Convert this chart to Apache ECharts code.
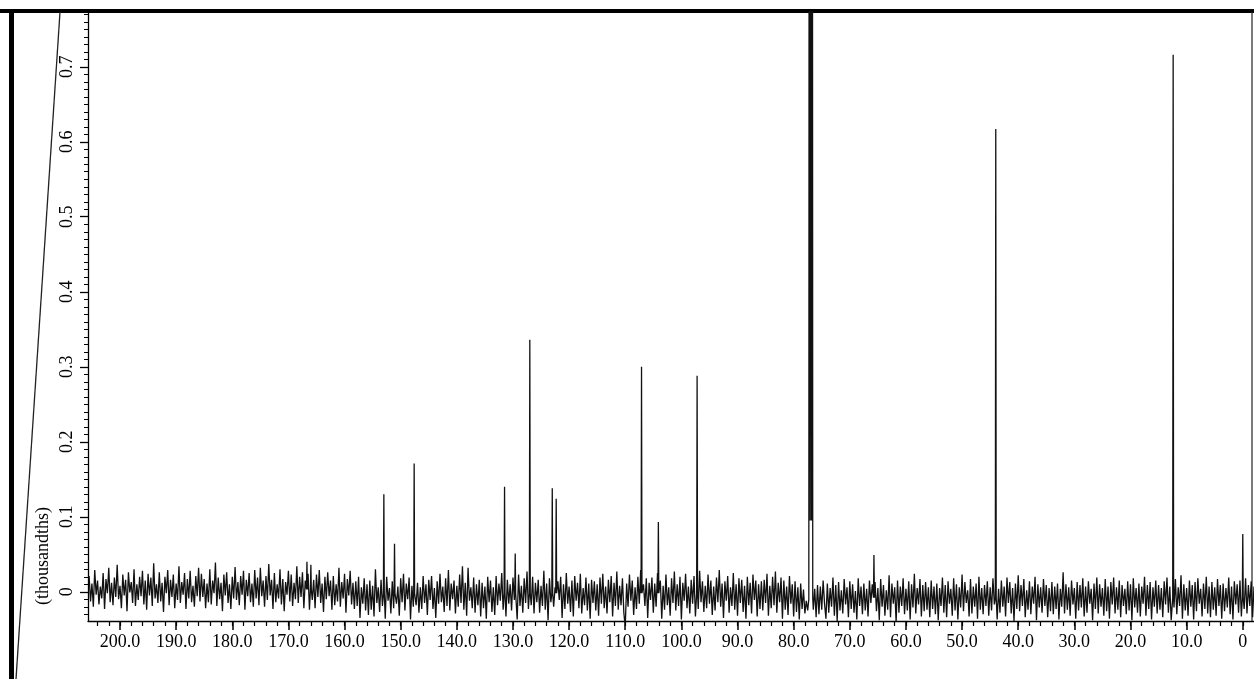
<!DOCTYPE html>
<html>
<head>
<meta charset="utf-8">
<title>13C NMR spectrum</title>
<script src="https://cdn.jsdelivr.net/npm/echarts@6/dist/echarts.min.js"></script>
<style>
  html, body { margin: 0; padding: 0; background: #fff; }
  #chart { width: 1254px; height: 679px; }
</style>
</head>
<body>
<div id="chart"></div>
<script>
// axis ticks (ppm and thousandths)
const xMajorTicks = [200, 190, 180, 170, 160, 150, 140, 130, 120, 110, 100, 90, 80, 70, 60, 50, 40, 30, 20, 10, 0];
const yMajorTicks = [0, 0.1, 0.2, 0.3, 0.4, 0.5, 0.6, 0.7];

// resolved signals: shift (ppm) and height (thousandths)
const peakPpm    = [166.7, 166.0, 153.0, 151.1, 147.6, 131.5, 129.6, 127.0, 123.0, 122.3, 107.1, 104.1, 97.2, 65.7, 44.0, 12.4, 0.0];
const peakHeight = [0.040, 0.036, 0.130, 0.064, 0.171, 0.140, 0.051, 0.336, 0.138, 0.124, 0.300, 0.093, 0.288, 0.049, 0.617, 0.716, 0.077];

// CDCl3 triplet, goes off the top of the plot
const solventPpm = [77.3, 77.2, 77.05, 76.95, 76.8, 76.7, 76.6];
const solventVal = [-0.010, 2.0, 0.095, 2.0, 0.095, 2.0, -0.008];

// baseline level by region (ppm edges, high to low)
const baseEdges = [205.7, 158, 77, -2];
const baseLevel = [0.003, -0.002, -0.008];

// noise read off the trace as deviations from the baseline, in 1/1000 of a y unit,
// one sample every 0.25 ppm from 205.5 ppm
const noiseStart = 205.5;
const noiseStep = 0.25;
const noiseMilli = [
  // 205.5
  18, -16, 8, -23, 26, -7, 12, -20, 4, -12, 22, -26, 14, -5, 29, -17, 9, -21, 16, -10,
  33, -13, 5, -25, 20, -8, 13, -29, 23, -4, 10, -18, 27, -22, 7, -14, 17, -9, 25, -20,
  // 195.5
  12, -27, 21, -8, 16, -22, 35, -12, 7, -18, 23, -16, 9, -30, 17, -5, 26, -21, 13, -10,
  20, -25, 8, -14, 31, -18, 10, -7, 22, -26, 14, -12, 25, -17, 5, -23, 18, -9, 29, -16,
  // 185.5
  21, -10, 14, -25, 8, -17, 27, -20, 12, -5, 36, -22, 16, -13, 9, -29, 20, -8, 23, -18,
  7, -26, 17, -12, 30, -14, 10, -21, 18, -7, 25, -27, 13, -9, 22, -17, 8, -23, 26, -12,
  // 175.5
  16, -21, 29, -9, 12, -23, 18, -14, 34, -8, 13, -26, 22, -17, 7, -12, 27, -20, 14, -29,
  10, -7, 25, -16, 20, -22, 9, -13, 31, -18, 17, -10, 23, -25, 12, -8, 21, -27, 16, -14,
  // 165.5
  13, -25, 20, -10, 26, -18, 8, -30, 17, -13, 23, -9, 12, -27, 18, -21, 7, -16, 29, -23,
  10, -12, 21, -31, 14, -8, 25, -20, 9, -26, 16, -17, 22, -33, 8, -14, 20, -23, 12, -29,
  // 155.5
  17, -22, 10, -31, 32, -13, 8, -25, 18, -17, 12, -34, 22, -10, 7, -27, 16, -20, 25, -14,
  9, -30, 20, -12, 26, -23, 13, -8, 21, -35, 10, -18, 27, -16, 14, -26, 8, -21, 23, -13,
  // 145.5
  12, -29, 18, -9, 23, -21, 7, -33, 16, -14, 26, -12, 9, -25, 20, -17, 31, -23, 13, -8,
  17, -27, 10, -18, 25, -13, 36, -22, 14, -30, 34, -10, 8, -20, 21, -26, 12, -16, 18, -31,
  // 135.5
  14, -20, 9, -34, 22, -12, 17, -25, 8, -29, 23, -16, 13, -10, 27, -22, 7, -31, 18, -14,
  12, -23, 21, -9, 16, -35, 25, -17, 10, -26, 20, -13, 29, -21, 8, -16, 22, -27, 14, -12,
  // 125.5
  18, -26, 10, -17, 30, -22, 13, -36, 20, -12, 25, -18, 8, -29, 16, -9, 22, -33, 12, -21,
  27, -14, 9, -25, 17, -31, 23, -10, 14, -20, 26, -27, 7, -16, 21, -23, 13, -34, 18, -13,
  // 115.5
  16, -23, 12, -30, 21, -14, 26, -20, 9, -27, 18, -12, 23, -31, 14, -17, 29, -22, 10, -16,
  20, -26, -45, 13, -18, 25, -10, 17, -29, 8, -21, 22, -14, 31, -25, 12, -17, 20, -33, 14,
  // 105.5
  -9, 21, -26, 13, -18, 27, -12, 17, -34, 10, -22, 25, -16, 8, -30, 20, -13, 29, -23, 12,
  -17, 22, -35, 14, -10, 26, -20, 9, -27, 18, -14, 23, -31, 13, -21, 30, -12, 16, -25, 10,
  // 95.5
  -20, 25, -14, 17, -29, 9, -23, 21, -12, 31, -18, 13, -33, 16, -10, 23, -26, 8, -17, 27,
  -22, 12, -30, 20, -13, 18, -25, 10, -34, 22, -16, 14, -27, 25, -9, 17, -31, 12, -21, 16,
  // 85.5
  -23, 18, -13, 26, -30, 10, -20, 22, -16, 29, -26, 14, -12, 21, -34, 17, -22, 9, -29, 23,
  -14, 12, -31, 16, -25, 8, -35, 13, -21, 5, -27, -10, -23, 0, 0, 0, -16, 12, -26, 17,
  // 75.5
  -22, 15, -16, 23, -8, -28, 19, -20, 13, -12, 27, -24, 17, -31, 21, -17, 10, -21, 25, -9,
  14, -26, 22, -15, 18, -20, 9, -29, 26, -11, 15, -22, 19, -17, 12, -25, 23, -7, 18, -28,
  // 65.5
  21, -18, 13, -30, 25, -12, 17, -24, 10, -16, 30, -26, 19, -8, 14, -33, 23, -20, 15, -11,
  26, -22, 12, -17, 22, -29, 18, -13, 32, -21, 13, -9, 25, -25, 17, -18, 21, -16, 14, -26,
  // 55.5
  23, -15, 15, -22, 19, -30, 13, -11, 27, -20, 17, -26, 22, -8, 12, -24, 26, -17, 18, -29,
  14, -13, 31, -18, 21, -7, 10, -25, 25, -21, 15, -12, 19, -28, 28, -16, 13, -22, 17, -11,
  // 45.5
  22, -24, 14, -17, 26, -9, 18, -29, 12, -20, 23, -12, 15, -25, 27, -7, 21, -21, 13, -31,
  19, -15, 30, -18, 17, -11, 25, -26, 10, -16, 22, -22, 15, -8, 28, -30, 18, -13, 14, -20,
  // 35.5
  25, -11, 17, -26, 13, -18, 21, -22, 15, -15, 19, -29, 12, -12, 34, -21, 18, -16, 14, -24,
  23, -9, 13, -28, 21, -17, 17, -13, 26, -25, 15, -20, 22, -8, 12, -30, 19, -15, 27, -21,
  // 25.5
  18, -12, 13, -24, 25, -18, 15, -28, 21, -9, 27, -21, 14, -16, 23, -26, 17, -11, 12, -22,
  22, -17, 18, -30, 26, -13, 13, -20, 19, -25, 15, -8, 28, -24, 17, -15, 21, -29, 14, -12,
  // 15.5
  23, -21, 17, -16, 13, -26, 22, -9, 27, -20, 15, -30, 19, -13, 25, -22, 14, -11, 30, -28,
  18, -17, 13, -24, 23, -12, 17, -29, 21, -18, 26, -8, 12, -25, 19, -15, 28, -21, 15, -26,
  // 5.5
  21, -16, 14, -24, 25, -11, 17, -28, 19, -18, 13, -13, 27, -22, 15, -29, 22, -9, 18, -20,
  23, -25, 14, -15, 26, -21, 17, -11, 22, -26, 15
];

function baselineAt(ppm) {
  for (let k = 0; k < baseLevel.length; k++) {
    if (ppm > baseEdges[k + 1]) return baseLevel[k];
  }
  return baseLevel[baseLevel.length - 1];
}

// 组装谱线数据
function buildSpectrum() {
  const pts = [];
  noiseMilli.forEach((v, i) => {
    const ppm = noiseStart - i * noiseStep;
    if (peakPpm.some(p => Math.abs(p - ppm) < 0.12)) return;
    if (Math.abs(ppm - 77.0) < 0.45) return;
    pts.push([ppm, baselineAt(ppm) + v / 1000]);
  });
  peakPpm.forEach((p, i) => {
    const b = baselineAt(p);
    pts.push([p + 0.08, b]);
    pts.push([p, peakHeight[i]]);
    pts.push([p - 0.08, b]);
  });
  solventPpm.forEach((p, i) => pts.push([p, solventVal[i]]));
  pts.sort((a, b) => b[0] - a[0]);
  return pts;
}

const minorX = [];
for (let v = 204; v >= 0; v -= 2) minorX.push(v);
const minorY = [];
for (let k = -3; k <= 77; k++) minorY.push(k / 100);

const serif = '"Liberation Serif", "DejaVu Serif", serif';
const chart = echarts.init(document.getElementById('chart'));

const option = {
  backgroundColor: '#fff',
  animation: false,
  grid: { left: 88, right: 0, top: 12, bottom: 58, containLabel: false, outerBoundsMode: 'none' },
  xAxis: [{
    type: 'value', inverse: true, min: -2, max: 205.7,
    axisLine: { show: true, onZero: false, lineStyle: { color: '#000', width: 1.3 } },
    axisTick: { show: true, customValues: xMajorTicks, length: 9, lineStyle: { color: '#000', width: 1.5 } },
    axisLabel: {
      customValues: xMajorTicks, margin: 12, color: '#000', fontFamily: serif, fontSize: 18,
      formatter: v => v === 0 ? '0' : v.toFixed(1)
    },
    splitLine: { show: false }
  }, {
    type: 'value', inverse: true, min: -2, max: 205.7, position: 'bottom',
    axisLine: { show: false, onZero: false },
    axisTick: { show: true, customValues: minorX, length: 5, lineStyle: { color: '#000', width: 1.2 } },
    axisLabel: { show: false },
    splitLine: { show: false }
  }],
  yAxis: [{
    type: 'value', min: -0.039, max: 0.773,
    axisLine: { show: true, onZero: false, lineStyle: { color: '#000', width: 1.3 } },
    axisTick: { show: true, customValues: yMajorTicks, length: 8, lineStyle: { color: '#000', width: 1.3 } },
    axisLabel: {
      customValues: yMajorTicks, rotate: 90, margin: 12, color: '#000', fontFamily: serif, fontSize: 18,
      formatter: v => v === 0 ? '0' : v.toFixed(1)
    },
    splitLine: { show: false }
  }, {
    type: 'value', min: -0.039, max: 0.773, position: 'left',
    axisLine: { show: false, onZero: false },
    axisTick: { show: true, customValues: minorY, length: 4, lineStyle: { color: '#000', width: 1 } },
    axisLabel: { show: false },
    splitLine: { show: false }
  }],
  series: [{
    type: 'line',
    xAxisIndex: 0,
    yAxisIndex: 0,
    data: buildSpectrum(),
    showSymbol: false,
    clip: true,
    lineStyle: { color: '#111', width: 1.3 }
  }],
  graphic: [
    { type: 'rect', shape: { x: 0, y: 9, width: 1254, height: 4 }, style: { fill: '#000' } },
    { type: 'rect', shape: { x: 9, y: 9, width: 5, height: 670 }, style: { fill: '#000' } },
    { type: 'line', shape: { x1: 1252, y1: 12, x2: 1252, y2: 621 }, style: { stroke: '#222', lineWidth: 1.2 } },
    { type: 'line', shape: { x1: 60, y1: 12, x2: 16, y2: 679 }, style: { stroke: '#222', lineWidth: 1.3 } },
    {
      type: 'text', x: 43, y: 556, rotation: Math.PI / 2,
      style: { text: '(thousandths)', x: 0, y: 0, fill: '#000', font: '18px ' + serif, textAlign: 'center', textVerticalAlign: 'middle' }
    }
  ]
};

chart.setOption(option);

window.addEventListener('resize', function() {
  chart.resize();
});
</script>
</body>
</html>
